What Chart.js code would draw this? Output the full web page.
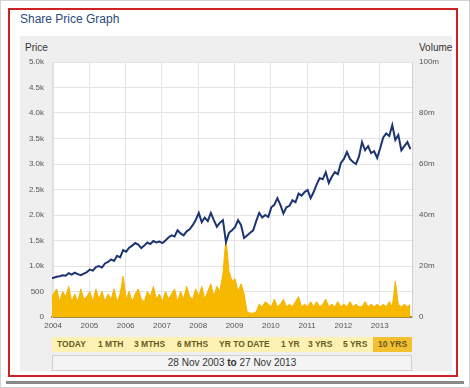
<!DOCTYPE html>
<html>
<head>
<meta charset="utf-8">
<script src="https://cdn.jsdelivr.net/npm/chart.js@4/dist/chart.umd.min.js"></script>
<style>
    body { margin: 0; background: #fff; font-family: "Liberation Sans", Arial, sans-serif; }
    .page { position: absolute; left: 0; top: 0; width: 468px; height: 386px; border: 1px solid #d4d4d4; background: #fff; }
    .frame { position: absolute; left: 8px; top: 8px; width: 446px; height: 365px; border: 2px solid #cc2222; background: #fff; }
    .shadow { position: absolute; left: 6px; top: 381px; width: 458px; height: 3px; background: #8a8a8a; }
    .title { position: absolute; left: 20px; top: 12px; font-size: 12px; color: #2c4a7c; }
    .panel { position: absolute; left: 20px; top: 36px; width: 432px; height: 335px; background: #efefef; }
    .axisTitle { position: absolute; top: 42px; font-size: 10px; color: #333; }
    #wrap { position: absolute; left: 20px; top: 36px; width: 432px; height: 300px; }
    .periods { position: absolute; left: 52px; top: 337px; width: 360px; height: 15px; background: #fdf2b3; }
    .periods span { position: absolute; top: 0; height: 15px; line-height: 15px; font-size: 8.5px; font-weight: bold; color: #6b5a1c; }
    .periods span.on { background: #f2c030; text-align: center; }
    .range { position: absolute; left: 52px; top: 355px; width: 358px; height: 14px; border: 1px solid #cfcfcf; background: #f4f4f4; font-size: 10px; line-height: 14px; color: #333; text-align: center; }
</style>
</head>
<body>
<div class="page"></div>
<div class="shadow"></div>
<div class="frame"></div>
<div class="title">Share Price Graph</div>
<div class="panel"></div>
<div class="axisTitle" style="left:25px">Price</div>
<div class="axisTitle" style="left:419px">Volume</div>
<div id="wrap"><canvas id="share"></canvas></div>
<div class="periods" id="periods"></div>
<div class="range">28 Nov 2003 <b>to</b> 27 Nov 2013</div>

<script>
// monthly closing price, Dec 2003 .. Nov 2013
var price = [
    760,
    770, 790, 800, 820, 810, 860, 830, 870, 840, 820, 850, 880,
    930, 910, 980, 1000, 970, 1050, 1080, 1130, 1100, 1200, 1170, 1310,
    1280, 1360, 1400, 1450, 1420, 1350, 1400, 1460, 1430, 1490, 1460, 1480,
    1450, 1500, 1560, 1600, 1580, 1700, 1640, 1600, 1680, 1720, 1800, 1900,
    2040, 1860, 1950, 1880, 2040, 1900, 1770, 1850, 1900, 1470, 1650, 1700,
    1760, 1900, 1800, 1550, 1600, 1650, 1700, 1880, 2040, 1950, 2000, 1960,
    2150, 2200, 2330, 2200, 2030, 2150, 2180, 2290, 2250, 2420, 2380, 2450,
    2490, 2330, 2450, 2600, 2725, 2700, 2840, 2630, 2750, 2840, 2800, 3020,
    3100, 3235, 3100, 3040, 3000, 3150, 3430, 3270, 3350, 3215, 3250, 3120,
    3310, 3520, 3600, 3550, 3765, 3470, 3570, 3270, 3350, 3430, 3290
];

// monthly volume (millions)
var volume = [
    7,
    9, 11, 6, 10, 8, 12, 6, 9, 6, 11, 7, 8,
    10, 6, 11, 7, 10, 6, 9, 7, 11, 6, 9, 16,
    7, 10, 6, 9, 11, 7, 6, 10, 8, 12, 7, 9,
    6, 10, 7, 9, 11, 6, 10, 7, 12, 8, 7, 11,
    8, 12, 7, 10, 13, 8, 12, 10, 17, 31, 18, 14,
    15, 10, 13, 9, 2, 1.5, 1.5, 2, 5, 4, 6, 5,
    4, 7, 4, 5, 7, 4, 5, 4, 6, 8, 4, 5,
    4, 6, 4, 6, 4, 5, 7, 4, 5, 4, 6, 4,
    5, 4, 6, 4, 5, 4, 4, 6, 4, 5, 4, 5,
    4, 5, 4, 6, 4, 14, 5, 4, 5, 4, 5
];

var yearTicks = [2004, 2005, 2006, 2007, 2008, 2009, 2010, 2011, 2012, 2013];
var periodLabels = ["TODAY", "1 MTH", "3 MTHS", "6 MTHS", "YR TO DATE", "1 YR", "3 YRS", "5 YRS", "10 YRS"];
var periodLeft = [5, 46, 82, 125, 167, 229, 256, 291, 321];

var startYear = 2003.97, endYear = 2013.89;

/*period buttons*/
var box = document.getElementById("periods");
periodLabels.forEach(function (t, i) {
    var s = document.createElement("span");
    s.textContent = t;
    s.style.left = periodLeft[i] + "px";
    if (i == periodLabels.length - 1) {
        s.className = "on";
        s.style.width = (360 - periodLeft[i]) + "px";
    }
    box.appendChild(s);
});

function toPoints(arr) {
    return arr.map(function (v, i) {
        return {x: startYear - 0.04 + i / 12, y: v};
    });
}

/*white plot background*/
var plotBg = {
    id: 'plotBg',
    beforeDraw: function (c) {
        var a = c.chartArea;
        c.ctx.save();
        c.ctx.fillStyle = '#ffffff';
        c.ctx.fillRect(a.left, a.top, a.right - a.left, a.bottom - a.top);
        c.ctx.restore();
    }
};

var tickFont = {family: "'Liberation Sans', Arial", size: 8};
var gridColor = '#e4e4e4';

var ctx = document.getElementById("share").getContext('2d');
var chart = new Chart(ctx, {
    type: 'line',
    data: {
        datasets: [{
            label: 'Price',
            data: toPoints(price),
            yAxisID: 'price',
            borderColor: '#1c3472',
            borderWidth: 2,
            pointRadius: 0,
            tension: 0,
            order: 1
        }, {
            label: 'Volume',
            data: toPoints(volume),
            yAxisID: 'volume',
            borderColor: '#f5b300',
            backgroundColor: '#f7b800',
            borderWidth: 1,
            pointRadius: 0,
            tension: 0,
            fill: 'origin',
            order: 2
        }]
    },
    plugins: [plotBg],
    options: {
        responsive: true,
        maintainAspectRatio: false,
        animation: false,
        layout: {padding: {top: 26, left: 0, right: 0, bottom: 0}},
        plugins: {legend: {display: false}, tooltip: {enabled: false}},
        scales: {
            x: {
                type: 'linear',
                min: startYear,
                max: endYear,
                afterBuildTicks: function (s) {
                    s.ticks = yearTicks.map(function (v) { return {value: v}; });
                },
                afterFit: function (s) { s.height = 19; },
                ticks: {font: tickFont, color: '#555', padding: 4, maxRotation: 0,
                    callback: function (v) { return String(v); }},
                grid: {color: gridColor, drawTicks: false},
                border: {color: '#a88a36', width: 2}
            },
            price: {
                position: 'left',
                min: 0,
                max: 5000,
                afterFit: function (s) { s.width = 32; },
                ticks: {stepSize: 500, font: tickFont, color: '#555', padding: 8,
                    callback: function (v) { return v >= 1000 ? (v / 1000).toFixed(1) + 'k' : v; }},
                grid: {color: gridColor, drawTicks: false},
                border: {color: '#dddddd'}
            },
            volume: {
                position: 'right',
                min: 0,
                max: 100,
                afterFit: function (s) { s.width = 40; },
                ticks: {stepSize: 20, font: tickFont, color: '#555', padding: 7,
                    callback: function (v) { return v == 0 ? '0' : v + 'm'; }},
                grid: {drawOnChartArea: false, drawTicks: false},
                border: {color: '#d0d0d0'}
            }
        }
    }
});
</script>
</body>
</html>
